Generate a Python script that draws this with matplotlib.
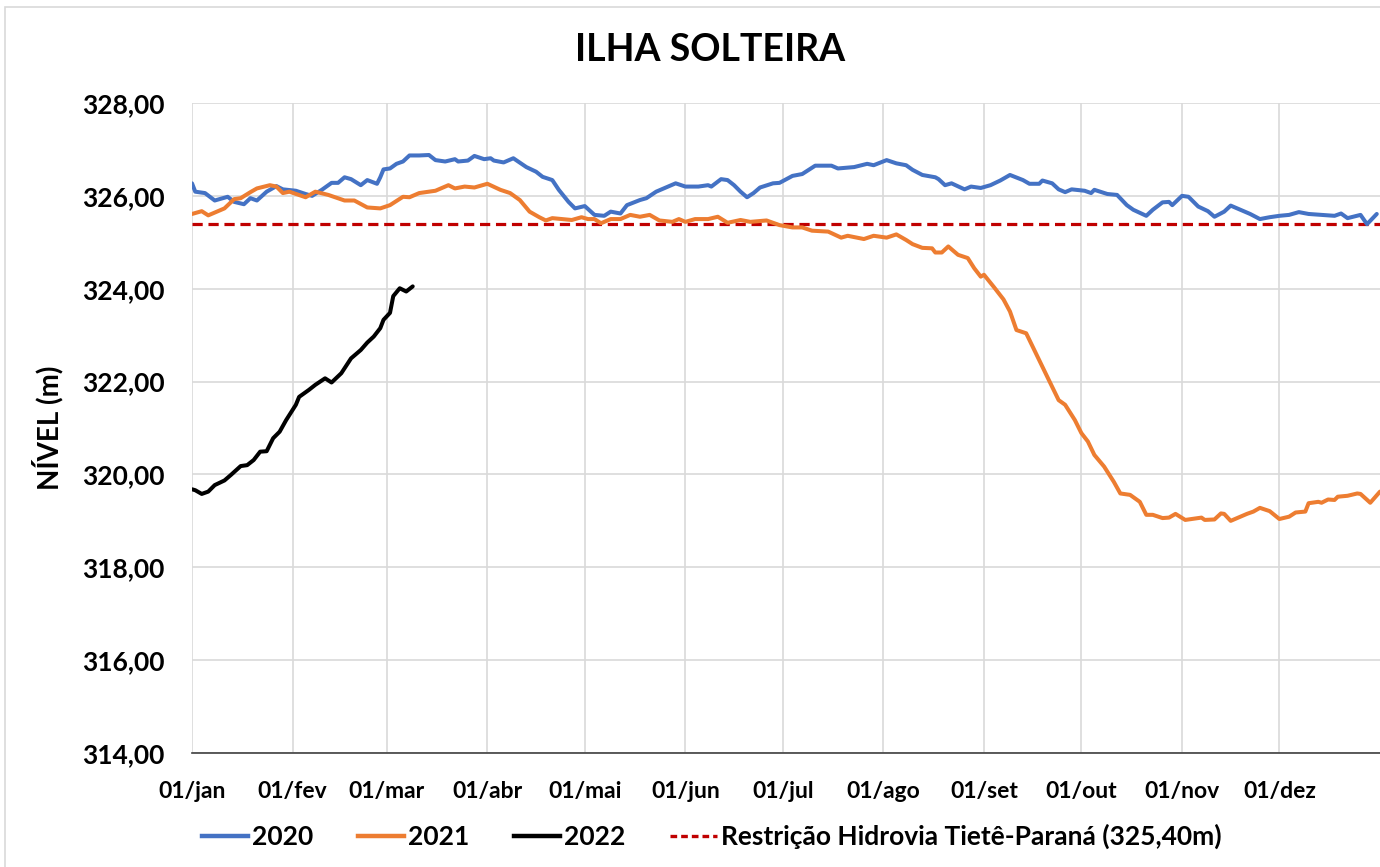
import matplotlib
matplotlib.use("Agg")
import matplotlib.pyplot as plt
from matplotlib.patches import Rectangle
from matplotlib.lines import Line2D

# ---------------- data ----------------
days_2020 = [0, 1, 4, 7, 11, 13, 16, 18, 20, 23, 26, 28, 32, 35, 37, 40, 43, 45, 47, 49, 52, 54, 57, 58, 59,
             61, 63, 65, 67, 70, 73, 75, 78, 81, 82, 85, 87, 90, 92, 93, 96, 99, 103, 106, 108, 111, 113, 116,
             118, 121, 124, 127, 129, 132, 134, 138, 140, 143, 146, 149, 152, 156, 159, 160, 163, 165, 167,
             169, 171, 173, 175, 179, 181, 185, 188, 190, 192, 197, 199, 204, 208, 210, 214, 217, 220, 222,
             225, 229, 230, 232, 234, 238, 240, 243, 246, 249, 252, 256, 258, 261, 262, 265, 267, 269, 271,
             275, 277, 278, 282, 285, 288, 290, 294, 296, 299, 301, 302, 305, 307, 310, 313, 315, 318, 320,
             323, 326, 329, 332, 335, 338, 341, 344, 348, 352, 354, 356, 360, 362, 365]
vals_2020 = [326.27, 326.09, 326.06, 325.90, 325.98, 325.87, 325.82, 325.95, 325.90, 326.09, 326.21, 326.14,
             326.11, 326.04, 326.00, 326.13, 326.28, 326.28, 326.40, 326.36, 326.23, 326.34, 326.26, 326.40,
             326.57, 326.59, 326.69, 326.74, 326.87, 326.87, 326.88, 326.77, 326.74, 326.79, 326.74, 326.76,
             326.86, 326.79, 326.81, 326.76, 326.72, 326.81, 326.62, 326.52, 326.41, 326.34, 326.13, 325.87,
             325.73, 325.78, 325.59, 325.57, 325.66, 325.62, 325.80, 325.91, 325.95, 326.09, 326.18, 326.27,
             326.20, 326.20, 326.23, 326.20, 326.36, 326.34, 326.23, 326.09, 325.97, 326.06, 326.18, 326.27,
             326.28, 326.43, 326.47, 326.56, 326.65, 326.65, 326.59, 326.62, 326.69, 326.66, 326.77, 326.70,
             326.66, 326.56, 326.45, 326.40, 326.36, 326.23, 326.27, 326.14, 326.20, 326.17, 326.23, 326.33,
             326.45, 326.34, 326.26, 326.26, 326.33, 326.27, 326.14, 326.08, 326.14, 326.11, 326.06, 326.13,
             326.04, 326.02, 325.80, 325.70, 325.57, 325.70, 325.86, 325.87, 325.80, 326.00, 325.98, 325.77,
             325.67, 325.55, 325.66, 325.79, 325.70, 325.61, 325.50, 325.54, 325.57, 325.59, 325.65, 325.61,
             325.59, 325.57, 325.62, 325.52, 325.59, 325.39, 325.61]

days_2021 = [0, 3, 5, 10, 13, 15, 18, 20, 24, 26, 28, 30, 35, 38, 42, 47, 50, 54, 58, 61, 65, 67, 70, 75, 79,
             81, 84, 87, 91, 95, 98, 101, 104, 107, 109, 111, 117, 120, 122, 124, 126, 129, 132, 135, 138,
             141, 144, 148, 150, 152, 155, 159, 162, 165, 169, 172, 177, 181, 185, 188, 191, 196, 200, 202,
             207, 210, 214, 217, 220, 222, 225, 228, 229, 231, 233, 236, 239, 241, 243, 244, 247, 250, 252,
             254, 257, 259, 262, 264, 267, 269, 272, 274, 276, 278, 281, 284, 286, 289, 292, 294, 296, 299,
             301, 303, 306, 311, 312, 315, 317, 318, 320, 323, 325, 327, 329, 332, 335, 338, 340, 343, 344,
             347, 348, 350, 352, 353, 356, 359, 360, 363, 366]
vals_2021 = [325.61, 325.67, 325.58, 325.73, 325.93, 325.95, 326.08, 326.16, 326.23, 326.20, 326.06, 326.09,
             325.97, 326.09, 326.02, 325.90, 325.90, 325.75, 325.73, 325.80, 325.98, 325.97, 326.06, 326.11,
             326.23, 326.16, 326.20, 326.18, 326.26, 326.13, 326.06, 325.91, 325.66, 325.54, 325.47, 325.52,
             325.48, 325.54, 325.50, 325.50, 325.41, 325.50, 325.50, 325.59, 325.55, 325.59, 325.47, 325.44,
             325.50, 325.44, 325.50, 325.50, 325.55, 325.42, 325.48, 325.44, 325.47, 325.37, 325.32, 325.32,
             325.25, 325.23, 325.10, 325.14, 325.07, 325.14, 325.10, 325.17, 325.05, 324.96, 324.88, 324.87,
             324.78, 324.78, 324.91, 324.73, 324.66, 324.44, 324.26, 324.30, 324.04, 323.77, 323.51, 323.11,
             323.04, 322.75, 322.32, 322.03, 321.60, 321.50, 321.17, 320.89, 320.71, 320.42, 320.17, 319.84,
             319.59, 319.56, 319.41, 319.13, 319.13, 319.06, 319.07, 319.15, 319.02, 319.07, 319.02, 319.03,
             319.16, 319.15, 319.00, 319.09, 319.15, 319.20, 319.28, 319.21, 319.04, 319.09, 319.18, 319.20,
             319.38, 319.41, 319.39, 319.46, 319.45, 319.52, 319.54, 319.59, 319.58, 319.39, 319.63]

days_2022 = [0, 1, 3, 5, 7, 10, 12, 15, 17, 19, 21, 23, 25, 27, 29, 30, 32, 33, 36, 38, 41, 43, 46, 49, 52,
             54, 56, 58, 59, 61, 62, 64, 66, 68]
vals_2022 = [319.68, 319.66, 319.58, 319.63, 319.77, 319.87, 319.99, 320.18, 320.20, 320.31, 320.49, 320.50,
             320.78, 320.92, 321.17, 321.28, 321.50, 321.67, 321.82, 321.93, 322.07, 321.98, 322.18, 322.50,
             322.68, 322.84, 322.97, 323.15, 323.33, 323.48, 323.84, 324.01, 323.94, 324.05]

restricao = 325.40

month_starts = [0, 31, 60, 91, 121, 152, 182, 213, 244, 274, 305, 335]
month_labels = ["01/jan", "01/fev", "01/mar", "01/abr", "01/mai", "01/jun",
                "01/jul", "01/ago", "01/set", "01/out", "01/nov", "01/dez"]
y_ticks = [314, 316, 318, 320, 322, 324, 326, 328]
series_labels = ["2020", "2021", "2022", "Restrição Hidrovia Tietê-Paraná (325,40m)"]

# ---------------- style ----------------
FONT = "Lato"
plt.rcParams["font.family"] = [FONT, "DejaVu Sans"]
plt.rcParams["font.weight"] = "bold"

C2020 = "#4472C4"
C2021 = "#ED7D31"
C2022 = "#000000"
CRES = "#C00000"
GRID = "#D9D9D9"

fig = plt.figure(figsize=(13.8, 8.67), dpi=100)
fig.patches.append(Rectangle((5 / 1380, -0.1), 1.2, 0.992 + 0.1, transform=fig.transFigure,
                             fill=False, edgecolor="#D9D9D9", linewidth=1.2, zorder=0))

ax = fig.add_axes([192 / 1380, 1 - 753 / 867, 1 - 192 / 1380, (753 - 103) / 867])

lw = 2.9
ax.plot(days_2020, vals_2020, color=C2020, lw=lw, solid_joinstyle="round", solid_capstyle="round", zorder=3)
ax.plot(days_2021, vals_2021, color=C2021, lw=lw, solid_joinstyle="round", solid_capstyle="round", zorder=3)
ax.plot(days_2022, vals_2022, color=C2022, lw=lw, solid_joinstyle="round", solid_capstyle="round", zorder=4)
ax.axhline(restricao, color=CRES, lw=2.3, linestyle=(0, (3.2, 1.8)), zorder=2)

ax.set_xlim(0, 366)
ax.set_ylim(314, 328)
ax.set_xticks(month_starts)
ax.set_xticklabels(month_labels)
ax.set_yticks(y_ticks)
ax.set_yticklabels([f"{v:.2f}".replace(".", ",") for v in y_ticks])

ax.grid(True, color=GRID, lw=1.2, zorder=0)
ax.set_axisbelow(True)
for s in ["top", "right", "left"]:
    ax.spines[s].set_visible(False)
ax.spines["bottom"].set_color("#404040")
ax.spines["bottom"].set_linewidth(1.2)
ax.tick_params(axis="x", length=0, pad=20, labelsize=16.5)
ax.tick_params(axis="y", length=0, pad=20, labelsize=19)
for lab in ax.get_xticklabels() + ax.get_yticklabels():
    lab.set_fontweight("bold")

ax.set_ylabel("NÍVEL (m)", fontsize=20, fontweight="bold")
ax.yaxis.set_label_coords(-0.108, 0.5)

fig.text(0.5145, 0.942, "ILHA SOLTEIRA", ha="center", va="center", fontsize=27, fontweight="bold")

handles = [Line2D([], [], color=C2020, lw=3.2),
           Line2D([], [], color=C2021, lw=3.2),
           Line2D([], [], color=C2022, lw=3.2),
           Line2D([], [], color=CRES, lw=2.4, linestyle=(0, (2, 1.2)))]
leg = fig.legend(handles, series_labels, loc="center", bbox_to_anchor=(0.5155, 0.035), ncol=4,
                 frameon=False, handlelength=1.75, handletextpad=0.15, columnspacing=1.7,
                 prop={"weight": "bold", "size": 19})

fig.savefig("out.png", dpi=100)
